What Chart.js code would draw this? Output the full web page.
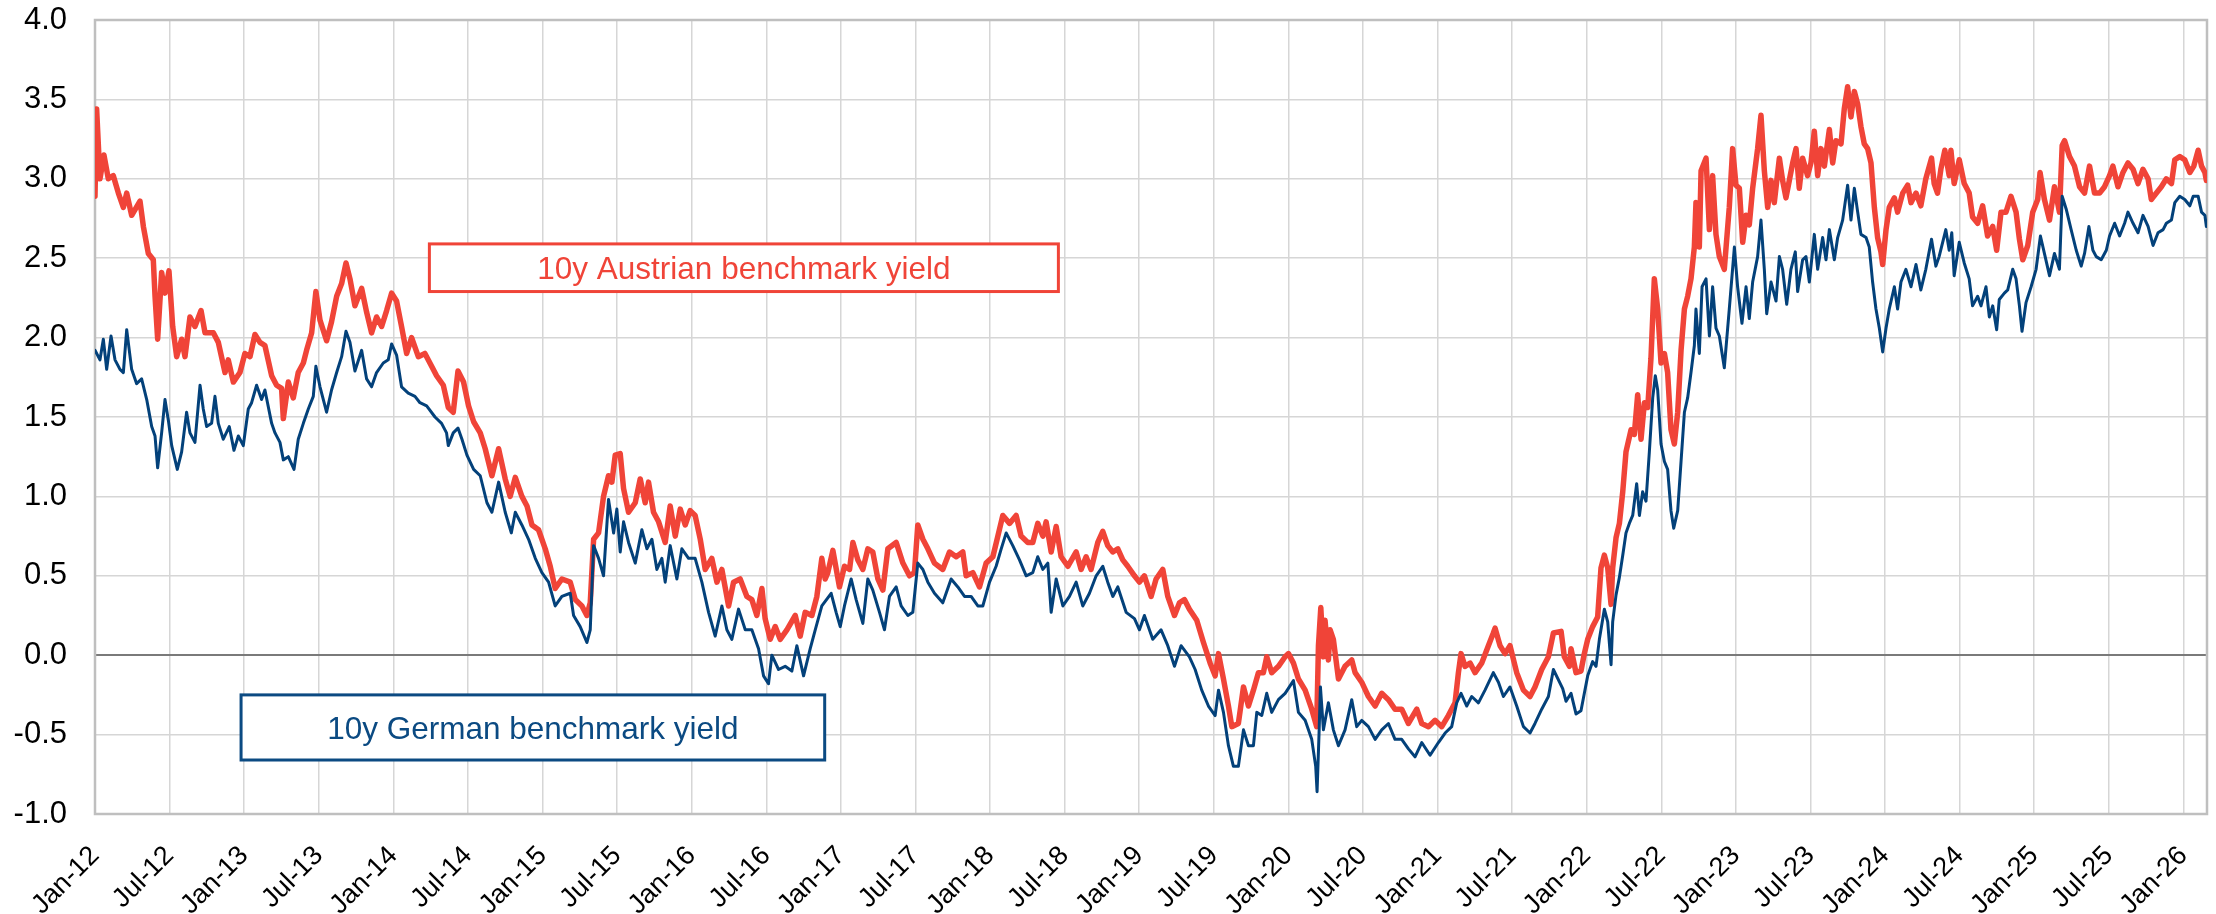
<!DOCTYPE html>
<html>
<head>
<meta charset="utf-8">
<title>10y benchmark yields: Austria vs Germany</title>
<script src="https://cdn.jsdelivr.net/npm/chart.js@4.4.1/dist/chart.umd.min.js"></script>
<style>
  html, body { margin: 0; padding: 0; background: #fff; }
  #wrap { width: 2216px; height: 914px; }
</style>
</head>
<body>
<div id="wrap"><canvas id="yields" width="2216" height="914"></canvas></div>
<script>
// x values are months since Jan 2012, y values are yields in %

// Austria 10y benchmark
const atMonth = [
  0.00,0.13,0.40,0.72,1.07,1.47,1.88,2.28,2.55,2.95,
  3.62,3.89,4.29,4.69,4.83,5.04,5.36,5.63,5.95,6.25,
  6.57,6.97,7.24,7.64,8.04,8.53,8.85,9.52,9.92,10.46,
  10.72,11.13,11.66,12.06,12.47,12.87,13.27,13.67,14.21,14.61,
  15.01,15.15,15.55,15.95,16.35,16.76,17.02,17.43,17.77,18.10,
  18.63,19.03,19.44,19.84,20.19,20.51,20.91,21.45,21.85,22.25,
  22.65,23.06,23.46,23.86,24.26,24.66,25.07,25.47,26.01,26.54,
  27.08,27.48,28.02,28.42,28.82,
  29.20,29.65,30.05,30.46,30.99,31.39,31.93,32.47,33.00,33.40,
  33.81,34.34,34.75,35.15,35.68,36.22,36.62,37.02,37.56,38.23,
  38.63,39.17,39.57,39.84,40.11,40.51,40.91,41.31,41.58,41.85,
  42.25,42.52,42.92,43.46,43.86,44.26,44.53,44.93,45.34,45.87,
  46.27,46.68,47.08,47.48,47.88,48.28,48.69,49.09,49.62,50.03,
  50.43,50.97,51.37,51.90,52.44,52.84,53.24,53.65,53.91,54.32,
  54.72,55.12,55.66,56.33,56.73,57.13,57.67,58.07,58.47,58.74,
  58.95,59.36,59.89,60.29,60.70,60.97,61.37,61.77,62.17,62.57,
  62.98,63.38,63.78,64.45,64.99,65.52,65.92,66.19,66.60,67.00,
  67.53,68.20,68.74,69.28,69.81,70.08,70.62,71.15,71.69,72.23,
  72.63,73.03,73.57,74.10,74.50,75.04,75.44,75.84,76.25,76.51,
  76.92,77.32,77.72,78.26,78.93,79.33,79.73,80.13,80.67,81.07,
  81.47,81.88,82.28,82.68,83.08,83.62,84.02,84.42,84.96,85.36,
  85.90,86.30,86.84,87.24,87.64,88.04,
  88.63,89.17,89.71,90.11,90.38,90.78,91.18,91.45,91.98,92.39,
  92.79,93.19,93.59,93.99,94.26,94.66,95.20,95.74,96.01,96.41,
  96.81,97.35,97.88,98.28,98.42,98.61,98.82,98.95,99.22,99.36,
  99.62,100.03,100.56,101.10,101.37,101.90,102.44,102.98,103.51,104.05,
  104.58,105.12,105.66,106.33,106.73,107.27,107.80,108.34,108.87,109.41,
  109.68,109.89,110.21,110.62,111.02,111.55,112.09,112.49,112.63,113.03,
  113.43,113.83,114.37,114.91,115.44,115.84,116.38,116.92,117.32,
  117.94,118.20,118.61,118.74,119.14,119.54,119.81,120.08,120.48,120.88,
  121.15,121.42,121.69,121.96,122.09,122.36,122.63,122.90,123.16,123.57,
  123.83,124.10,124.37,124.64,124.91,125.17,125.44,125.71,125.98,126.25,
  126.51,126.78,127.05,127.32,127.59,127.86,128.12,128.39,128.66,128.79,
  129.06,129.20,129.60,129.87,130.13,130.40,130.67,131.07,131.47,131.74,
  132.01,132.28,132.55,132.82,133.08,133.35,133.75,134.02,134.29,134.56,
  134.83,135.09,135.50,135.76,136.03,136.30,136.57,136.84,137.10,137.37,
  137.77,138.04,138.31,138.58,138.85,139.12,139.52,139.79,140.05,140.46,
  140.72,140.99,141.26,141.53,141.80,142.06,142.33,142.60,142.87,143.14,
  143.40,143.67,143.81,144.08,144.34,144.75,145.01,145.42,145.82,146.09,
  146.49,
  146.88,147.28,147.74,147.95,148.22,148.49,148.81,149.16,149.30,149.56,
  149.97,150.37,150.77,151.04,151.45,151.85,152.25,152.66,152.98,153.33,
  153.73,154.13,154.54,154.81,155.08,155.48,155.88,156.28,156.47,156.82,
  157.23,157.63,158.03,158.25,158.44,158.84,159.24,159.65,160.05,160.45,
  160.85,161.26,161.66,162.06,162.33,162.74,163.14,163.54,163.95,164.35,
  164.75,165.16,165.42,165.83,166.23,166.63,167.04,167.31,167.71,168.11,
  168.52,168.84,169.19,169.46,169.73,169.85
];
const atYield = [
  2.89,3.44,3.00,3.15,3.00,3.02,2.91,2.82,2.91,2.77,
  2.86,2.70,2.53,2.49,2.26,1.99,2.41,2.28,2.42,2.07,
  1.88,1.99,1.88,2.13,2.07,2.17,2.03,2.03,1.97,1.78,
  1.86,1.72,1.78,1.90,1.88,2.02,1.97,1.95,1.76,1.70,
  1.68,1.49,1.72,1.62,1.78,1.84,1.92,2.03,2.29,2.11,
  1.98,2.10,2.26,2.34,2.47,2.37,2.20,2.31,2.16,2.03,
  2.13,2.07,2.17,2.28,2.23,2.07,1.90,2.00,1.88,1.90,
  1.82,1.76,1.70,1.56,1.53,
  1.79,1.72,1.57,1.47,1.40,1.30,1.13,1.30,1.11,1.00,
  1.12,1.00,0.94,0.82,0.79,0.67,0.56,0.42,0.48,0.46,
  0.35,0.31,0.25,0.33,0.73,0.77,1.00,1.13,1.09,1.26,
  1.27,1.05,0.90,0.96,1.11,0.96,1.09,0.90,0.84,0.71,
  0.94,0.75,0.92,0.82,0.91,0.88,0.73,0.54,0.61,0.46,
  0.54,0.31,0.46,0.48,0.37,0.35,0.25,0.42,0.23,0.10,
  0.18,0.10,0.16,0.25,0.12,0.27,0.25,0.37,0.61,0.48,
  0.52,0.66,0.43,0.56,0.54,0.71,0.60,0.54,0.67,0.65,
  0.48,0.41,0.67,0.71,0.58,0.50,0.52,0.82,0.73,0.67,
  0.58,0.54,0.65,0.62,0.65,0.50,0.52,0.43,0.58,0.62,
  0.75,0.88,0.83,0.88,0.75,0.71,0.71,0.83,0.75,0.84,
  0.65,0.81,0.62,0.56,0.65,0.54,0.62,0.54,0.71,0.78,
  0.69,0.65,0.67,0.60,0.56,0.50,0.46,0.50,0.37,0.48,
  0.54,0.37,0.25,0.33,0.35,0.29,
  0.22,0.08,-0.05,-0.13,0.01,-0.15,-0.32,-0.45,-0.43,-0.20,
  -0.32,-0.22,-0.11,-0.11,-0.01,-0.11,-0.07,-0.01,0.01,-0.05,
  -0.15,-0.22,-0.34,-0.45,0.06,0.30,-0.01,0.22,-0.03,0.16,
  0.10,-0.15,-0.07,-0.03,-0.11,-0.17,-0.26,-0.32,-0.24,-0.28,
  -0.34,-0.34,-0.43,-0.34,-0.43,-0.45,-0.41,-0.45,-0.38,-0.30,
  -0.11,0.01,-0.07,-0.05,-0.11,-0.05,0.06,0.14,0.17,0.06,
  0.01,0.06,-0.11,-0.22,-0.26,-0.20,-0.09,-0.01,0.14,
  0.15,-0.01,-0.07,0.04,-0.11,-0.10,0.01,0.10,0.18,0.24,
  0.55,0.63,0.55,0.32,0.55,0.74,0.83,1.03,1.28,1.42,
  1.39,1.64,1.36,1.59,1.56,1.87,2.37,2.18,1.84,1.90,
  1.78,1.42,1.33,1.53,1.92,2.18,2.26,2.37,2.57,2.85,
  2.57,3.05,3.13,2.68,3.02,2.65,2.51,2.43,2.82,3.19,
  2.96,2.94,2.60,2.77,2.71,2.94,3.19,3.40,3.05,2.82,
  2.99,2.85,3.13,2.99,2.88,2.99,3.10,3.19,2.94,3.13,
  3.02,3.10,3.30,3.02,3.19,3.08,3.31,3.10,3.24,3.22,
  3.44,3.58,3.39,3.55,3.47,3.33,3.22,3.19,3.10,2.82,
  2.63,2.54,2.46,2.68,2.82,2.88,2.79,2.91,2.96,2.85,
  2.91,
  2.83,3.00,3.13,2.97,2.91,3.06,3.18,3.02,3.18,2.97,
  3.12,2.97,2.91,2.76,2.72,2.83,2.64,2.70,2.55,2.79,
  2.79,2.89,2.79,2.62,2.49,2.58,2.79,2.87,3.04,2.87,
  2.74,2.95,2.79,3.21,3.24,3.14,3.08,2.95,2.91,3.08,
  2.91,2.91,2.95,3.02,3.08,2.95,3.04,3.10,3.06,2.97,
  3.06,3.00,2.87,2.91,2.95,3.00,2.97,3.12,3.14,3.12,
  3.04,3.08,3.18,3.08,3.04,2.99
];

// Germany 10y benchmark
const deMonth = [
  0.00,0.40,0.67,0.94,1.29,1.61,2.01,2.28,2.55,2.95,
  3.35,3.75,4.16,4.56,4.83,5.04,5.36,5.63,5.90,6.17,
  6.62,6.97,7.37,7.64,8.04,8.45,8.71,8.98,9.38,9.65,
  9.92,10.32,10.80,11.18,11.53,11.93,12.33,12.60,13.00,13.40,
  13.67,14.21,14.48,14.88,15.15,15.55,16.01,16.35,16.76,17.16,
  17.56,17.77,18.10,18.63,19.03,19.44,19.84,20.19,20.51,20.91,
  21.45,21.85,22.25,22.65,23.19,23.59,23.86,24.26,24.66,25.20,
  25.74,26.14,26.68,27.35,27.88,28.28,28.42,28.82,
  29.20,29.52,29.92,30.46,30.99,31.53,31.93,32.47,33.00,33.49,
  33.81,34.34,34.88,35.42,35.95,36.49,37.02,37.56,38.23,38.50,
  39.03,39.57,39.84,40.11,40.51,40.91,41.31,41.72,41.98,42.25,
  42.52,42.92,43.46,43.99,44.40,44.80,45.20,45.60,45.87,46.27,
  46.81,47.21,47.75,48.28,48.82,49.36,49.89,50.43,50.83,51.23,
  51.77,52.31,52.84,53.38,53.78,54.18,54.45,54.99,55.52,56.06,
  56.46,57.00,57.53,57.94,58.47,
  59.22,59.62,59.95,60.29,60.83,61.23,61.77,62.17,62.57,63.11,
  63.51,63.91,64.45,64.85,65.39,65.79,66.19,66.60,67.00,67.53,
  68.20,68.87,69.41,69.95,70.48,71.02,71.42,71.96,72.49,72.90,
  73.30,73.83,74.37,74.91,75.44,75.84,76.25,76.65,76.92,77.32,
  77.86,78.39,78.93,79.46,80.00,80.54,81.07,81.47,81.88,82.28,
  82.95,83.62,84.02,84.42,85.09,85.76,86.30,86.84,87.37,88.04,
  88.50,89.03,89.57,90.11,90.38,90.78,91.18,91.58,91.98,92.39,
  92.79,93.19,93.46,93.86,94.26,94.66,95.20,95.74,96.41,96.81,
  97.35,97.88,98.20,98.31,98.47,98.58,98.82,99.22,99.62,100.03,
  100.56,101.10,101.50,101.90,102.44,102.98,103.51,104.05,104.58,105.12,
  105.66,106.19,106.73,107.40,108.07,108.61,109.14,109.54,109.89,110.35,
  110.75,111.29,111.82,112.49,112.90,113.30,113.83,114.37,114.91,115.44,
  115.84,116.38,116.92,117.32,
  118.07,118.34,118.74,119.14,119.54,119.81,120.08,120.48,120.75,121.02,
  121.42,121.69,121.96,122.09,122.36,122.63,122.90,123.16,123.43,123.70,
  124.02,124.24,124.50,124.77,125.04,125.31,125.52,125.71,125.98,126.25,
  126.51,126.78,127.00,127.32,127.59,127.86,128.12,128.39,128.66,128.79,
  129.06,129.28,129.60,129.87,130.13,130.40,130.67,131.07,131.47,131.88,
  132.14,132.49,132.82,133.08,133.35,133.75,134.02,134.29,134.48,134.83,
  135.23,135.50,135.76,136.09,136.43,136.78,136.97,137.37,137.64,137.91,
  138.31,138.58,138.98,139.25,139.52,139.92,140.19,140.59,140.99,141.26,
  141.53,141.80,142.06,142.47,142.73,143.00,143.27,143.54,143.81,144.08,
  144.34,144.75,145.01,145.28,145.68,146.09,146.49,
  146.88,147.28,147.74,148.09,148.35,148.89,149.16,149.37,149.56,149.97,
  150.37,150.77,151.04,151.45,151.72,152.12,152.39,152.66,152.98,153.19,
  153.60,153.87,154.27,154.54,154.81,155.02,155.34,155.75,156.15,156.50,
  156.82,157.23,157.63,158.03,158.25,158.57,158.97,159.38,159.78,160.05,
  160.40,160.72,160.99,161.39,161.80,162.06,162.47,162.87,163.27,163.54,
  163.95,164.35,164.75,165.16,165.56,165.96,166.37,166.63,167.04,167.31,
  167.71,168.11,168.52,168.79,169.19,169.46,169.73,169.85
];
const deYield = [
  1.92,1.86,1.99,1.80,2.01,1.86,1.80,1.78,2.05,1.80,
  1.71,1.74,1.61,1.44,1.38,1.18,1.40,1.61,1.48,1.32,
  1.17,1.28,1.53,1.40,1.34,1.70,1.55,1.44,1.46,1.63,
  1.46,1.36,1.44,1.29,1.38,1.32,1.55,1.59,1.70,1.61,
  1.67,1.46,1.40,1.34,1.23,1.25,1.17,1.36,1.46,1.55,
  1.63,1.82,1.69,1.53,1.67,1.78,1.88,2.04,1.97,1.79,
  1.92,1.74,1.69,1.78,1.84,1.86,1.96,1.89,1.69,1.65,
  1.63,1.59,1.57,1.50,1.46,1.40,1.32,1.40,
  1.43,1.36,1.26,1.17,1.13,0.96,0.90,1.09,0.90,0.77,
  0.90,0.82,0.73,0.61,0.52,0.46,0.31,0.37,0.39,0.25,
  0.18,0.08,0.16,0.69,0.61,0.50,0.98,0.77,0.92,0.65,
  0.84,0.71,0.58,0.79,0.67,0.73,0.54,0.61,0.46,0.69,
  0.48,0.67,0.61,0.61,0.46,0.27,0.12,0.31,0.16,0.10,
  0.29,0.16,0.16,0.04,-0.13,-0.18,0.00,-0.09,-0.07,-0.10,
  0.06,-0.13,0.04,0.16,0.31,
  0.39,0.27,0.18,0.31,0.48,0.35,0.20,0.48,0.41,0.27,
  0.16,0.37,0.43,0.31,0.25,0.27,0.58,0.54,0.46,0.39,
  0.33,0.48,0.43,0.37,0.37,0.31,0.31,0.46,0.56,0.67,
  0.77,0.69,0.60,0.50,0.52,0.62,0.54,0.58,0.27,0.48,
  0.31,0.37,0.46,0.31,0.39,0.50,0.56,0.46,0.37,0.43,
  0.27,0.23,0.16,0.25,0.10,0.16,0.06,-0.07,0.06,-0.01,
  -0.09,-0.22,-0.32,-0.38,-0.22,-0.36,-0.57,-0.70,-0.70,-0.47,
  -0.57,-0.57,-0.36,-0.38,-0.24,-0.36,-0.28,-0.24,-0.16,-0.36,
  -0.41,-0.53,-0.70,-0.86,-0.49,-0.20,-0.47,-0.30,-0.47,-0.57,
  -0.47,-0.28,-0.45,-0.41,-0.45,-0.53,-0.47,-0.43,-0.53,-0.53,
  -0.59,-0.64,-0.55,-0.63,-0.55,-0.49,-0.45,-0.30,-0.24,-0.32,
  -0.26,-0.30,-0.22,-0.11,-0.17,-0.26,-0.20,-0.32,-0.45,-0.49,
  -0.43,-0.34,-0.26,-0.09,
  -0.21,-0.29,-0.24,-0.37,-0.35,-0.24,-0.13,-0.04,-0.07,0.10,
  0.29,0.21,-0.06,0.21,0.38,0.49,0.63,0.77,0.83,0.88,
  1.08,0.88,1.03,0.97,1.28,1.62,1.76,1.67,1.33,1.22,
  1.17,0.91,0.80,0.91,1.22,1.53,1.62,1.78,1.95,2.18,
  1.90,2.32,2.37,2.01,2.32,2.06,2.01,1.81,2.18,2.57,
  2.32,2.09,2.32,2.12,2.35,2.51,2.74,2.43,2.15,2.35,
  2.23,2.51,2.43,2.21,2.43,2.54,2.29,2.49,2.51,2.35,
  2.65,2.43,2.63,2.49,2.68,2.49,2.63,2.74,2.96,2.74,
  2.94,2.79,2.65,2.63,2.57,2.35,2.18,2.06,1.91,2.06,
  2.18,2.32,2.18,2.35,2.43,2.32,2.46,
  2.30,2.43,2.62,2.45,2.51,2.68,2.55,2.66,2.39,2.60,
  2.47,2.37,2.20,2.26,2.20,2.32,2.13,2.20,2.05,2.24,
  2.28,2.30,2.43,2.37,2.20,2.04,2.22,2.32,2.43,2.64,
  2.53,2.39,2.53,2.43,2.89,2.81,2.68,2.55,2.45,2.53,
  2.70,2.55,2.51,2.49,2.55,2.64,2.72,2.64,2.72,2.79,
  2.72,2.66,2.77,2.70,2.58,2.66,2.68,2.72,2.74,2.85,
  2.89,2.87,2.83,2.89,2.89,2.79,2.77,2.70
];

// half-yearly axis labels, one every 6 months from Jan 2012
const tickLabels = [
  'Jan-12','Jul-12','Jan-13','Jul-13','Jan-14','Jul-14','Jan-15','Jul-15',
  'Jan-16','Jul-16','Jan-17','Jul-17','Jan-18','Jul-18','Jan-19','Jul-19',
  'Jan-20','Jul-20','Jan-21','Jul-21','Jan-22','Jul-22','Jan-23','Jul-23',
  'Jan-24','Jul-24','Jan-25','Jul-25','Jan-26'
];
const tickMonths = tickLabels.map((_, i) => i * 6);

const RED = '#F04438';
const BLUE = '#03417A';
const FONT = '"Liberation Sans", Arial, sans-serif';

// boxed series captions, placed in axis units
const captions = [
  { text: '10y Austrian benchmark yield', color: RED,       from: 26.9,  to: 77.5, top: 2.59,  bottom: 2.29 },
  { text: '10y German benchmark yield',   color: '#0B4A82', from: 11.75, to: 58.7, top: -0.25, bottom: -0.66 }
];

const plotFrame = {
  id: 'plotFrame',
  beforeDatasetsDraw(chart) {
    const { ctx, chartArea: a } = chart;
    ctx.save();
    ctx.strokeStyle = '#BFBFBF';
    ctx.lineWidth = 2.5;
    ctx.strokeRect(a.left, a.top, a.right - a.left, a.bottom - a.top);
    ctx.restore();
  }
};

const captionBoxes = {
  id: 'captionBoxes',
  afterDatasetsDraw(chart) {
    const { ctx, scales: { x, y } } = chart;
    const size = 31.5;
    captions.forEach(c => {
      const l = x.getPixelForValue(c.from), r = x.getPixelForValue(c.to);
      const t = y.getPixelForValue(c.top), b = y.getPixelForValue(c.bottom);
      ctx.save();
      ctx.fillStyle = '#fff';
      ctx.fillRect(l, t, r - l, b - t);
      ctx.strokeStyle = c.color;
      ctx.lineWidth = 3;
      ctx.strokeRect(l, t, r - l, b - t);
      ctx.font = size + 'px ' + FONT;
      ctx.fillStyle = c.color;
      ctx.textAlign = 'center';
      ctx.textBaseline = 'alphabetic';
      ctx.fillText(c.text, (l + r) / 2, (t + b) / 2 + size * 0.358);
      ctx.restore();
    });
  }
};

Chart.defaults.font.family = FONT;
Chart.defaults.color = '#000';

new Chart(document.getElementById('yields'), {
  type: 'line',
  data: {
    datasets: [
      {
        label: '10y German benchmark yield',
        data: deMonth.map((m, i) => ({ x: m, y: deYield[i] })),
        borderColor: BLUE,
        borderWidth: 3,
        order: 0
      },
      {
        label: '10y Austrian benchmark yield',
        data: atMonth.map((m, i) => ({ x: m, y: atYield[i] })),
        borderColor: RED,
        borderWidth: 5.5,
        order: 1
      }
    ]
  },
  options: {
    responsive: false,
    animation: false,
    devicePixelRatio: 1,
    layout: { padding: { top: 20, right: 9, bottom: 0, left: 0 } },
    elements: {
      point: { radius: 0 },
      line: { tension: 0, borderJoinStyle: 'round', borderCapStyle: 'round', fill: false }
    },
    plugins: { legend: { display: false }, tooltip: { enabled: false } },
    scales: {
      x: {
        type: 'linear',
        min: 0,
        max: 169.9,
        afterBuildTicks: scale => { scale.ticks = tickMonths.map(v => ({ value: v })); },
        afterFit: scale => { scale.height = 100; scale.paddingLeft = 0; scale.paddingRight = 0; },
        ticks: {
          autoSkip: false,
          minRotation: 45,
          maxRotation: 45,
          padding: 26,
          font: { size: 27 },
          color: '#000',
          callback: (value, index) => tickLabels[index]
        },
        grid: { color: '#D6D6D6', lineWidth: 1.5, drawTicks: false },
        border: { display: false }
      },
      y: {
        min: -1,
        max: 4,
        afterFit: scale => { scale.width = 95; scale.paddingTop = 0; scale.paddingBottom = 0; },
        ticks: {
          stepSize: 0.5,
          padding: 28,
          font: { size: 31 },
          color: '#000',
          callback: v => v.toFixed(1)
        },
        grid: {
          color: ctx => (ctx.tick && ctx.tick.value === 0 ? '#7A7A7A' : '#D6D6D6'),
          lineWidth: ctx => (ctx.tick && ctx.tick.value === 0 ? 2 : 1.5),
          drawTicks: false
        },
        border: { display: false }
      }
    }
  },
  plugins: [plotFrame, captionBoxes]
});
</script>
</body>
</html>
